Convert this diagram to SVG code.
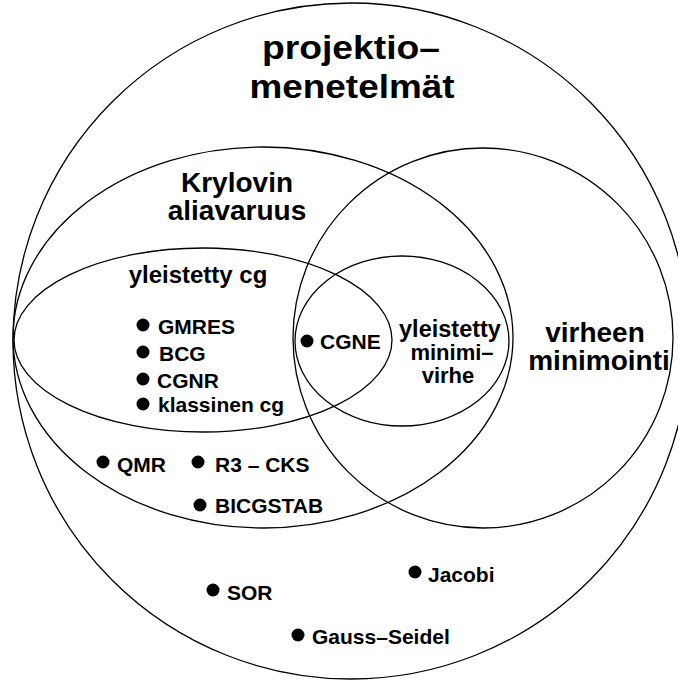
<svg xmlns="http://www.w3.org/2000/svg" width="678" height="681" viewBox="0 0 678 681">
<style>
.set{fill:none;stroke:#000;stroke-width:1.3}
text{font-family:"Liberation Sans",Arial,Helvetica,sans-serif;font-weight:bold;fill:#000}
.t1{font-size:34px;text-anchor:middle}
.t2{font-size:28px;text-anchor:middle}
.t3{font-size:24px;text-anchor:middle}
.t4{font-size:21px}
.t5{font-size:22px;text-anchor:middle}
.dot{fill:#000}
</style>
<rect width="678" height="681" fill="#fff"/>
<g id="projektiomenetelmat">
<circle class="set" cx="351" cy="341" r="338"/>
<text class="t1" x="351" y="59" textLength="178" lengthAdjust="spacingAndGlyphs">projektio–</text>
<text class="t1" x="352" y="98" textLength="205" lengthAdjust="spacingAndGlyphs">menetelmät</text>
</g>
<g id="krylov">
<ellipse class="set" cx="263" cy="337.5" rx="250" ry="190.5"/>
<text class="t2" x="237" y="192">Krylovin</text>
<text class="t2" x="237" y="220">aliavaruus</text>
</g>
<g id="virheen-minimointi">
<circle class="set" cx="483" cy="338" r="190"/>
<text class="t2" x="595" y="342">virheen</text>
<text class="t2" x="599" y="370">minimointi</text>
</g>
<g id="yleistetty-cg">
<ellipse class="set" cx="203" cy="340" rx="189" ry="92"/>
<text class="t3" x="198" y="283">yleistetty cg</text>
</g>
<g id="yleistetty-minimivirhe">
<ellipse class="set" cx="402" cy="341" rx="107" ry="85"/>
<text class="t5" x="450" y="337" style="font-size:23.5px">yleistetty</text>
<text class="t5" x="452" y="360">minimi–</text>
<text class="t5" x="448" y="383">virhe</text>
</g>
<g id="gmres"><circle class="dot" cx="143" cy="325" r="6.5"/><text class="t4" x="158" y="334">GMRES</text></g>
<g id="bcg"><circle class="dot" cx="143" cy="352" r="6.5"/><text class="t4" x="159" y="361">BCG</text></g>
<g id="cgnr"><circle class="dot" cx="143" cy="379" r="6.5"/><text class="t4" x="157" y="388">CGNR</text></g>
<g id="klassinen-cg"><circle class="dot" cx="143" cy="404" r="6.5"/><text class="t4" x="158" y="412">klassinen cg</text></g>
<g id="cgne"><circle class="dot" cx="307" cy="341" r="6.5"/><text class="t4" x="320" y="349">CGNE</text></g>
<g id="qmr"><circle class="dot" cx="103" cy="462" r="6.5"/><text class="t4" x="117" y="472">QMR</text></g>
<g id="r3-cks"><circle class="dot" cx="198" cy="462" r="6.5"/><text class="t4" x="215" y="472">R3 – CKS</text></g>
<g id="bicgstab"><circle class="dot" cx="200" cy="505" r="6.5"/><text class="t4" x="215" y="513">BICGSTAB</text></g>
<g id="sor"><circle class="dot" cx="213" cy="590" r="6.5"/><text class="t4" x="227" y="600">SOR</text></g>
<g id="jacobi"><circle class="dot" cx="415" cy="572" r="6.5"/><text class="t4" x="428" y="582">Jacobi</text></g>
<g id="gauss-seidel"><circle class="dot" cx="298" cy="635" r="6.5"/><text class="t4" x="312" y="644">Gauss–Seidel</text></g>
<g id="connectors"></g>
</svg>
